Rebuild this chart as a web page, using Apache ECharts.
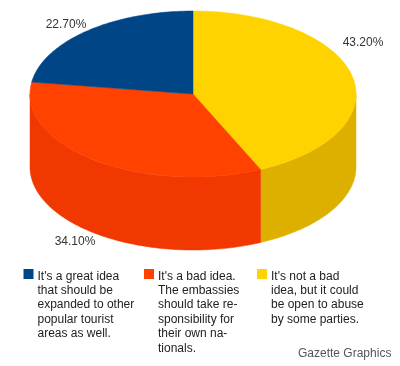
<!DOCTYPE html>
<html><head><meta charset="utf-8">
<style>html,body{margin:0;padding:0;background:#fff}#c{width:400px;height:366px}</style>
<script src="https://cdn.jsdelivr.net/npm/echarts@6/dist/echarts.min.js"></script>
</head><body><div id="c"></div>
<script>
const names = ["It's not a bad\nidea, but it could\nbe open to abuse\nby some parties.",
               "It's a bad idea.\nThe embassies\nshould take re-\nsponsibility for\ntheir own na-\ntionals.",
               "It's a great idea\nthat should be\nexpanded to other\npopular tourist\nareas as well."];
const values = [43.2, 34.1, 22.7];
const labels = ["43.20%", "34.10%", "22.70%"];
const topColors = ["#FFD300", "#FF4200", "#004586"];
const sideColors = ["#DDB000", "#F03800", "#003A70"];
const labelPos = [[363, 43], [75, 242], [66, 25]];
const legendX = [257, 144, 23.5];

const cx = 193, cy = 94, rx = 163, ry = 83, depth = 73;
const total = values.reduce((a, b) => a + b, 0);
let acc = 0;
const rows = values.map((v, i) => { const r = [v, acc, i]; acc += v; return r; });

function pt(t, dy) { return [cx + rx * Math.sin(t), cy - ry * Math.cos(t) + (dy || 0)]; }
function arc(a, b, dy) {
  const n = Math.max(2, Math.ceil(Math.abs(b - a) / 0.02)), out = [];
  for (let k = 0; k <= n; k++) out.push(pt(a + (b - a) * k / n, dy));
  return out;
}
function renderItem(params, api) {
  const v = api.value(0), s = api.value(1), i = api.value(2);
  const a = s / total * 2 * Math.PI, b = (s + v) / total * 2 * Math.PI;
  const children = [];
  const lo = Math.max(a, Math.PI / 2), hi = Math.min(b, 3 * Math.PI / 2);
  if (hi > lo) {
    const front = arc(lo, hi, 0), low = arc(hi, lo, depth);
    children.push({ type: 'polygon', shape: { points: front.concat(low) },
      style: { fill: sideColors[i], stroke: sideColors[i], lineWidth: 0.5 } });
  }
  children.push({ type: 'polygon', shape: { points: [[cx, cy]].concat(arc(a, b, 0)) },
    style: { fill: topColors[i], stroke: topColors[i], lineWidth: 0.5 } });
  children.push({ type: 'text', z2: 10, style: { x: labelPos[i][0], y: labelPos[i][1], text: labels[i],
    fill: '#333', font: '12px "Liberation Sans"', align: 'center', verticalAlign: 'middle' } });
  return { type: 'group', children };
}
const graphic = [];
names.forEach((n, i) => {
  graphic.push({ type: 'rect', left: legendX[i], top: 269, shape: { width: 10, height: 10 }, style: { fill: topColors[i] } });
  graphic.push({ type: 'text', left: legendX[i] + 14, top: 269, style: { text: n, fill: '#222',
    font: '12px "Liberation Sans"', lineHeight: 14.4 } });
});
graphic.push({ type: 'text', left: 298, top: 348, style: { text: 'Gazette Graphics', fill: '#555', font: '12px "Liberation Sans"' } });

const chart = echarts.init(document.getElementById('c'), null, { renderer: 'canvas' });
chart.setOption({
  animation: false,
  backgroundColor: '#fff',
  series: [{ type: 'custom', coordinateSystem: 'none', renderItem, data: rows, silent: true }],
  graphic
});
</script></body></html>
